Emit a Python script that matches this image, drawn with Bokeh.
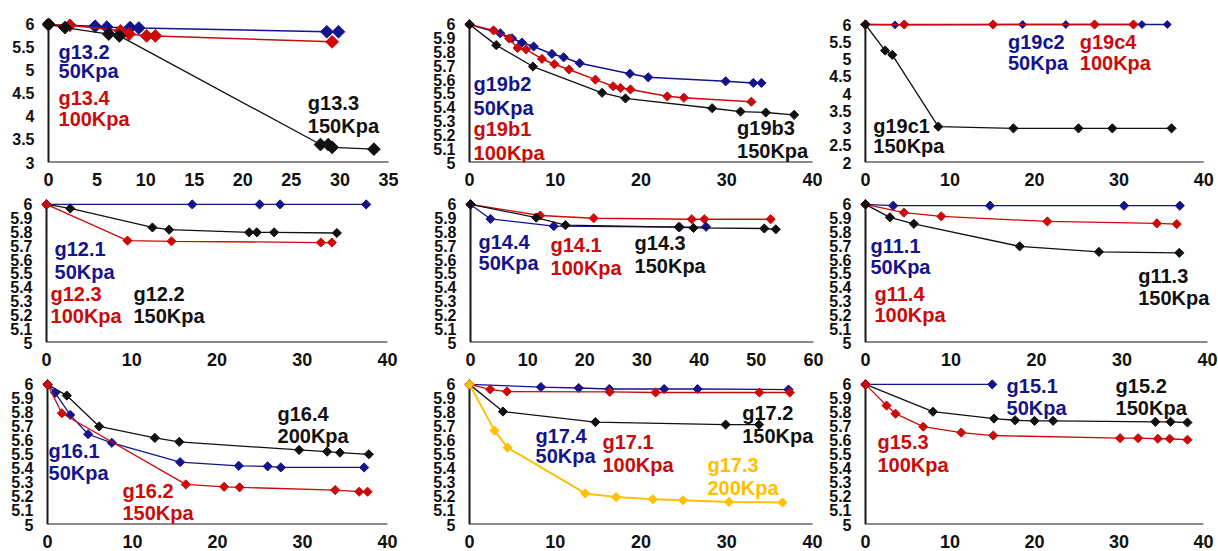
from math import pi
from bokeh.plotting import figure
from bokeh.layouts import column, row
from bokeh.models import Label, Range1d, FixedTicker, CustomJSTickFormatter
from bokeh.embed import file_html
from bokeh.resources import INLINE

BLUE = "#14148C"
RED = "#CC0A0A"
BLACK = "#111111"
GOLD = "#FFC000"

# ---------------- data ----------------
# Panel 1
p1_b_x = [0, 4.8, 6.0, 8.4, 9.3, 28.65, 29.85]
p1_b_y = [6.0, 5.96, 5.94, 5.93, 5.92, 5.84, 5.84]
p1_r_x = [0, 2.2, 7.4, 8.3, 10.1, 11.0, 29.2]
p1_r_y = [6.0, 5.98, 5.86, 5.79, 5.75, 5.75, 5.62]
p1_k_x = [0, 1.7, 6.2, 7.3, 28.0, 28.8, 29.2, 33.5]
p1_k_y = [6.0, 5.93, 5.79, 5.75, 3.39, 3.39, 3.33, 3.29]
# Panel 2
p2_b_x = [0, 3.58, 4.95, 6.11, 7.48, 9.62, 10.98, 12.85, 18.7, 20.84, 29.87, 33.1, 34.04]
p2_b_y = [6.0, 5.936, 5.90, 5.869, 5.84, 5.786, 5.762, 5.719, 5.643, 5.617, 5.588, 5.576, 5.576]
p2_r_x = [0, 2.8, 4.63, 5.61, 6.58, 8.45, 9.89, 11.6, 14.68, 16.75, 17.6, 18.77, 23.06, 25.0, 32.87]
p2_r_y = [6.0, 5.957, 5.898, 5.829, 5.819, 5.75, 5.712, 5.674, 5.60, 5.552, 5.54, 5.529, 5.479, 5.469, 5.44]
p2_k_x = [0, 3.12, 7.4, 15.46, 18.19, 28.3, 31.6, 34.55, 37.86]
p2_k_y = [6.0, 5.85, 5.695, 5.505, 5.464, 5.393, 5.369, 5.362, 5.345]
# Panel 3
p3_b_x = [0, 3.5, 18.6, 23.7, 32.7, 35.7]
p3_b_y = [6.0, 5.99, 6.0, 6.0, 6.0, 6.0]
p3_r_x = [0, 4.6, 15.1, 27.1, 31.7]
p3_r_y = [6.0, 6.0, 6.0, 6.0, 6.0]
p3_k_x = [0, 2.33, 3.18, 8.62, 17.5, 25.2, 29.2, 36.2]
p3_k_y = [6.0, 5.245, 5.12, 3.04, 2.99, 2.99, 2.99, 2.99]
# Panel 4
p4_b_x = [0, 17.1, 25.0, 27.4, 37.5]
p4_b_y = [6.0, 6.0, 6.0, 6.0, 6.0]
p4_k_x = [0, 2.78, 12.43, 14.39, 23.77, 24.67, 26.7, 34.06]
p4_k_y = [6.0, 5.971, 5.833, 5.817, 5.798, 5.798, 5.798, 5.793]
p4_r_x = [0, 9.5, 14.66, 32.18, 33.47]
p4_r_y = [6.0, 5.738, 5.733, 5.724, 5.724]
# Panel 5
p5_r_x = [0, 12.2, 21.55, 38.7, 40.9, 52.5]
p5_r_y = [6.0, 5.92, 5.90, 5.893, 5.893, 5.893]
p5_b_x = [0, 3.5, 14.56, 36.6, 41.2]
p5_b_y = [6.0, 5.895, 5.843, 5.836, 5.838]
p5_k_x = [0, 11.5, 16.6, 36.4, 39.0, 51.4, 53.4]
p5_k_y = [6.0, 5.905, 5.85, 5.836, 5.83, 5.826, 5.82]
# Panel 6
p6_b_x = [0, 3.24, 14.56, 30.24, 36.76]
p6_b_y = [6.0, 5.99, 5.99, 5.99, 5.99]
p6_r_x = [0, 4.49, 8.86, 21.27, 34.07, 36.4]
p6_r_y = [6.0, 5.94, 5.913, 5.876, 5.862, 5.857]
p6_k_x = [0, 2.85, 5.66, 18.03, 27.3, 36.7]
p6_k_y = [6.0, 5.906, 5.859, 5.696, 5.656, 5.649]
# Panel 7
p7_k_x = [0, 2.27, 6.08, 12.63, 15.5, 29.6, 32.9, 34.4, 37.8]
p7_k_y = [6.0, 5.92, 5.70, 5.618, 5.59, 5.532, 5.52, 5.513, 5.501]
p7_b_x = [0, 0.9, 2.67, 4.78, 7.57, 15.6, 22.5, 25.9, 27.45, 37.25]
p7_b_y = [6.0, 5.94, 5.782, 5.644, 5.583, 5.445, 5.419, 5.415, 5.407, 5.407]
p7_r_x = [0, 1.69, 16.27, 20.78, 22.6, 33.84, 36.67, 37.65]
p7_r_y = [6.0, 5.794, 5.286, 5.269, 5.265, 5.246, 5.234, 5.234]
# Panel 8
p8_b_x = [0, 8.33, 12.74, 16.3, 22.7, 26.6, 37.2]
p8_b_y = [6.0, 5.981, 5.974, 5.967, 5.967, 5.967, 5.963]
p8_r_x = [0, 2.41, 4.36, 16.36, 21.7, 33.8, 37.35]
p8_r_y = [6.0, 5.965, 5.949, 5.946, 5.942, 5.942, 5.942]
p8_k_x = [0, 3.9, 14.68, 29.87, 33.77]
p8_k_y = [6.0, 5.806, 5.731, 5.713, 5.713]
p8_o_x = [0, 2.92, 4.44, 13.5, 17.1, 21.38, 24.9, 30.26, 36.5]
p8_o_y = [6.0, 5.67, 5.549, 5.222, 5.196, 5.18, 5.173, 5.161, 5.157]
# Panel 9
p9_b_x = [0, 15.0]
p9_b_y = [6.0, 6.0]
p9_k_x = [0, 7.98, 15.2, 17.7, 20.0, 22.2, 34.3, 36.1, 38.1]
p9_k_y = [6.0, 5.805, 5.756, 5.744, 5.74, 5.74, 5.733, 5.733, 5.728]
p9_r_x = [0, 2.49, 3.55, 6.83, 11.33, 15.12, 30.13, 32.26, 34.6, 36.0, 38.1]
p9_r_y = [6.0, 5.849, 5.791, 5.698, 5.656, 5.635, 5.616, 5.616, 5.612, 5.612, 5.605]

# tick values
x_ticks_35 = [0, 5, 10, 15, 20, 25, 30, 35]
x_ticks_40 = [0, 10, 20, 30, 40]
x_ticks_60 = [0, 10, 20, 30, 40, 50, 60]
y_ticks_3_6 = [3, 3.5, 4, 4.5, 5, 5.5, 6]
y_ticks_2_6 = [2, 2.5, 3, 3.5, 4, 4.5, 5, 5.5, 6]
y_ticks_5_6 = [5, 5.1, 5.2, 5.3, 5.4, 5.5, 5.6, 5.7, 5.8, 5.9, 6]

# series labels (text, colour)
p1_text = [("g13.2", BLUE), ("50Kpa", BLUE), ("g13.4", RED), ("100Kpa", RED), ("g13.3", BLACK), ("150Kpa", BLACK)]
p2_text = [("g19b2", BLUE), ("50Kpa", BLUE), ("g19b1", RED), ("100Kpa", RED), ("g19b3", BLACK), ("150Kpa", BLACK)]
p3_text = [("g19c2", BLUE), ("50Kpa", BLUE), ("g19c4", RED), ("100Kpa", RED), ("g19c1", BLACK), ("150Kpa", BLACK)]
p4_text = [("g12.1", BLUE), ("50Kpa", BLUE), ("g12.3", RED), ("100Kpa", RED), ("g12.2", BLACK), ("150Kpa", BLACK)]
p5_text = [("g14.4", BLUE), ("50Kpa", BLUE), ("g14.1", RED), ("100Kpa", RED), ("g14.3", BLACK), ("150Kpa", BLACK)]
p6_text = [("g11.1", BLUE), ("50Kpa", BLUE), ("g11.4", RED), ("100Kpa", RED), ("g11.3", BLACK), ("150Kpa", BLACK)]
p7_text = [("g16.1", BLUE), ("50Kpa", BLUE), ("g16.2", RED), ("150Kpa", RED), ("g16.4", BLACK), ("200Kpa", BLACK)]
p8_text = [("g17.4", BLUE), ("50Kpa", BLUE), ("g17.1", RED), ("100Kpa", RED), ("g17.2", BLACK), ("150Kpa", BLACK), ("g17.3", GOLD), ("200Kpa", GOLD)]
p9_text = [("g15.1", BLUE), ("50Kpa", BLUE), ("g15.2", BLACK), ("150Kpa", BLACK), ("g15.3", RED), ("100Kpa", RED)]

# label anchor positions (data units, left/middle)
p1_pos = [(1.03, 5.40), (1.03, 4.98), (1.03, 4.40), (1.03, 3.94), (26.7, 4.30), (26.7, 3.79)]
p2_pos = [(0.47, 5.571), (0.47, 5.393), (0.47, 5.243), (0.47, 5.071), (31.2, 5.25), (31.2, 5.086)]
p3_pos = [(16.86, 5.48), (16.86, 4.87), (25.35, 5.48), (25.35, 4.87), (0.93, 3.07), (0.93, 2.49)]
p4_pos = [(0.94, 5.679), (0.94, 5.514), (0.47, 5.35), (0.47, 5.193), (10.2, 5.35), (10.2, 5.193)]
p5_pos = [(1.4, 5.727), (1.4, 5.576), (14.0, 5.705), (14.0, 5.54), (28.7, 5.72), (28.7, 5.554)]
p6_pos = [(0.58, 5.697), (0.58, 5.549), (1.05, 5.352), (1.05, 5.197), (31.9, 5.479), (31.9, 5.324)]
p7_pos = [(0.12, 5.524), (0.12, 5.37), (8.82, 5.238), (8.82, 5.084), (27.06, 5.79), (27.06, 5.63)]
p8_pos = [(7.7, 5.629), (7.7, 5.49), (15.5, 5.587), (15.5, 5.427), (31.8, 5.797), (31.8, 5.629), (27.75, 5.427), (27.75, 5.259)]
p9_pos = [(16.7, 5.986), (16.7, 5.832), (29.6, 5.986), (29.6, 5.832), (1.42, 5.587), (1.42, 5.427)]

# ---------------- layout ----------------
COL_LEFT = [0, 418, 826]
COL_W = [418, 408, 392]
ROW_TOP = [0, 189, 368]
ROW_H = [189, 179, 182]
PAD = 6      # space left of x = 0 and above y = 6 so markers are not clipped
RPAD = 10    # space right of the last x tick so labels are not clipped
FONT = "Liberation Sans"

fmt_code = "return (Math.round(tick*10)/10).toString();"


def make_panel(ci, ri, px0, pxmax, pytop, pymin, xmax, ymin, xticks, yticks,
               series, texts, positions, msize):
    fl, ft, fw, fh = COL_LEFT[ci], ROW_TOP[ri], COL_W[ci], ROW_H[ri]
    ytop = 6.0
    sx = (pxmax - px0) / xmax
    sy = (pymin - pytop) / (ytop - ymin)
    p = figure(width=fw, height=fh,
               x_range=Range1d(-PAD / sx, xmax + RPAD / sx),
               y_range=Range1d(ymin, ytop + PAD / sy),
               min_border_left=px0 - PAD - fl, min_border_right=fl + fw - pxmax - RPAD,
               min_border_top=pytop - PAD - ft, min_border_bottom=ft + fh - pymin,
               output_backend="svg", toolbar_location=None, tools="")
    p.outline_line_color = None
    p.xgrid.visible = False
    p.ygrid.visible = False
    p.background_fill_color = "white"
    p.border_fill_color = "white"
    for ax, ticks, size in ((p.xaxis[0], xticks, "18px"), (p.yaxis[0], yticks, "16px")):
        ax.ticker = FixedTicker(ticks=ticks)
        ax.formatter = CustomJSTickFormatter(code=fmt_code)
        ax.axis_line_color = None
        ax.major_tick_line_color = None
        ax.minor_tick_line_color = None
        ax.major_label_text_font = FONT
        ax.major_label_text_font_style = "bold"
        ax.major_label_text_font_size = size
        ax.major_label_text_color = "#111111"
    p.xaxis[0].major_label_standoff = 4
    p.yaxis[0].major_label_standoff = 2
    # axis lines drawn at x = 0 and y = ymin
    p.segment(x0=[0, 0], y0=[ymin, ymin], x1=[0, xmax], y1=[ytop, ymin],
              line_color="#1a1a1a", line_width=2)
    for xs, ys, col, lw, ms in series:
        p.line(xs, ys, line_color=col, line_width=lw)
        p.scatter(xs, ys, marker="square", angle=pi / 4, size=ms or msize,
                  fill_color=col, line_color=col)
    for (txt, col), (x, y) in zip(texts, positions):
        p.add_layout(Label(x=x, y=y, text=txt, text_color=col, text_font=FONT,
                           text_font_style="bold", text_font_size="20px",
                           text_align="left", text_baseline="middle"))
    return p


p1 = make_panel(0, 0, 48, 388, 22, 163, 35, 3, x_ticks_35, y_ticks_3_6,
                [(p1_b_x, p1_b_y, BLUE, 1.5, None), (p1_r_x, p1_r_y, RED, 1.5, None),
                 (p1_k_x, p1_k_y, BLACK, 1.3, None)], p1_text, p1_pos, 9)
p2 = make_panel(1, 0, 469, 812, 22, 162, 40, 5, x_ticks_40, y_ticks_5_6,
                [(p2_b_x, p2_b_y, BLUE, 1.5, None), (p2_r_x, p2_r_y, RED, 1.5, None),
                 (p2_k_x, p2_k_y, BLACK, 1.3, None)], p2_text, p2_pos, 6.5)
p3 = make_panel(2, 0, 859, 1203, 24, 162, 40, 2, x_ticks_40, y_ticks_2_6,
                [(p3_b_x, p3_b_y, BLUE, 1.3, 5.5), (p3_r_x, p3_r_y, RED, 1.5, None),
                 (p3_k_x, p3_k_y, BLACK, 1.3, None)], p3_text, p3_pos, 6.5)
p4 = make_panel(0, 1, 46, 387, 202, 342, 40, 5, x_ticks_40, y_ticks_5_6,
                [(p4_b_x, p4_b_y, BLUE, 1.3, None), (p4_k_x, p4_k_y, BLACK, 1.3, None),
                 (p4_r_x, p4_r_y, RED, 1.3, None)], p4_text, p4_pos, 6.5)
p5 = make_panel(1, 1, 470, 813, 204, 343, 60, 5, x_ticks_60, y_ticks_5_6,
                [(p5_r_x, p5_r_y, RED, 1.3, None), (p5_b_x, p5_b_y, BLUE, 1.3, None),
                 (p5_k_x, p5_k_y, BLACK, 1.3, None)], p5_text, p5_pos, 6.5)
p6 = make_panel(2, 1, 865, 1207, 201, 343, 40, 5, x_ticks_40, y_ticks_5_6,
                [(p6_b_x, p6_b_y, BLUE, 1.3, None), (p6_r_x, p6_r_y, RED, 1.3, None),
                 (p6_k_x, p6_k_y, BLACK, 1.3, None)], p6_text, p6_pos, 6.5)
p7 = make_panel(0, 2, 47, 387, 383, 526, 40, 5, x_ticks_40, y_ticks_5_6,
                [(p7_k_x, p7_k_y, BLACK, 1.3, None), (p7_b_x, p7_b_y, BLUE, 1.3, None),
                 (p7_r_x, p7_r_y, RED, 1.3, None)], p7_text, p7_pos, 6.5)
p8 = make_panel(1, 2, 469, 812, 384, 527, 40, 5, x_ticks_40, y_ticks_5_6,
                [(p8_b_x, p8_b_y, BLUE, 1.3, None), (p8_r_x, p8_r_y, RED, 1.3, None),
                 (p8_k_x, p8_k_y, BLACK, 1.3, None), (p8_o_x, p8_o_y, GOLD, 2, None)],
                p8_text, p8_pos, 6.5)
p9 = make_panel(2, 2, 865, 1203, 383, 526, 40, 5, x_ticks_40, y_ticks_5_6,
                [(p9_b_x, p9_b_y, BLUE, 1.3, None), (p9_k_x, p9_k_y, BLACK, 1.3, None),
                 (p9_r_x, p9_r_y, RED, 1.3, None)], p9_text, p9_pos, 6.5)

layout = column(row(p1, p2, p3), row(p4, p5, p6), row(p7, p8, p9))

open("out.html", "w").write(file_html(layout, INLINE))
